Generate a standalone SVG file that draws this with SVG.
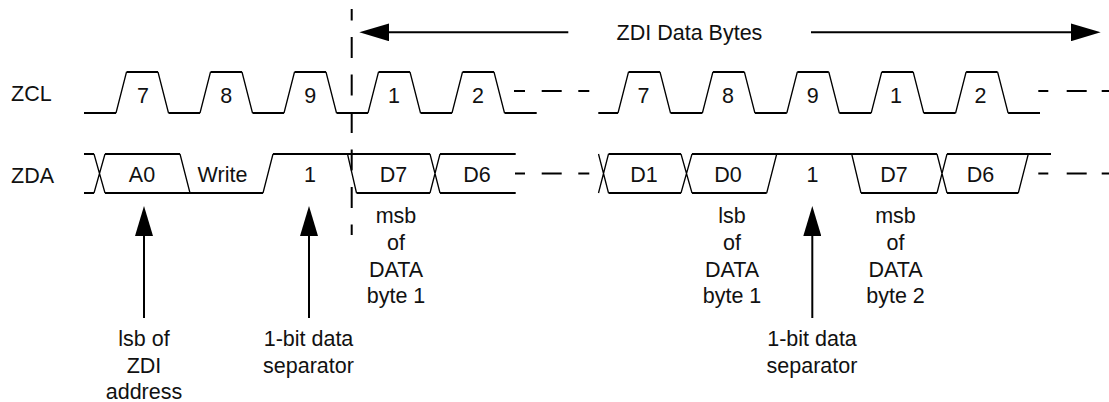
<svg xmlns="http://www.w3.org/2000/svg" width="1109" height="402" viewBox="0 0 1109 402">
<style>
  .h { fill: none; stroke: #000; stroke-width: 2; stroke-linecap: butt; }
  .d { fill: none; stroke: #000; stroke-width: 1.3; }
  .ar { fill: none; stroke: #000; stroke-width: 2; marker-end: url(#ah); }
  .vd { fill: none; stroke: #000; stroke-width: 2; stroke-dasharray: 21 16.5; stroke-dashoffset: 9.5; }
  text { font-family: "Liberation Sans", Arial, sans-serif; font-size: 21.5px; fill: #111; }
  .m { text-anchor: middle; }
</style>
<defs>
  <marker id="ah" viewBox="0 0 30 18" markerWidth="30" markerHeight="18" refX="1" refY="9" markerUnits="userSpaceOnUse" orient="auto">
    <path d="M0,0 L30,9 L0,18 Z" fill="#000"/>
  </marker>
</defs>
<rect width="1109" height="402" fill="#fff"/>

<g id="signal-labels">
  <text x="11" y="101">ZCL</text>
  <text x="11" y="182.5">ZDA</text>
</g>

<g id="zcl">
  <path class="h" d="M84,113H116 M168.5,113H200 M252.5,113H284 M336.5,113H368 M420.5,113H452 M504.5,113H536.7
    M126.5,72H158 M210.5,72H242 M294.5,72H326 M378.5,72H410 M462.5,72H494
    M598.3,113H618 M670.5,113H702.4 M754.9,113H786.8 M839.3,113H871.2 M923.7,113H955.6 M1008.1,113H1040
    M628.5,72H660 M712.9,72H744.4 M797.3,72H828.8 M881.7,72H913.2 M966.1,72H997.6
    M514,91H525 M541.7,91H561.7 M578.3,91H589.3 M1038.3,91H1048.3 M1066.7,91H1086.7 M1101.7,91H1109"/>
  <path class="d" d="M116,113L126.5,72 M158,72L168.5,113 M200,113L210.5,72 M242,72L252.5,113 M284,113L294.5,72 M326,72L336.5,113
    M368,113L378.5,72 M410,72L420.5,113 M452,113L462.5,72 M494,72L504.5,113
    M618,113L628.5,72 M660,72L670.5,113 M702.4,113L712.9,72 M744.4,72L754.9,113 M786.8,113L797.3,72 M828.8,72L839.3,113
    M871.2,113L881.7,72 M913.2,72L923.7,113 M955.6,113L966.1,72 M997.6,72L1008.1,113"/>
  <text class="m" x="143" y="103">7</text>
  <text class="m" x="226.3" y="103">8</text>
  <text class="m" x="310.3" y="103">9</text>
  <text class="m" x="394" y="103">1</text>
  <text class="m" x="478" y="103">2</text>
  <text class="m" x="643.5" y="103">7</text>
  <text class="m" x="728" y="103">8</text>
  <text class="m" x="812.8" y="103">9</text>
  <text class="m" x="896" y="103">1</text>
  <text class="m" x="980.5" y="103">2</text>
</g>

<g id="zda">
  <path class="h" d="M84,154H94 M105,154H180 M273,154H430 M440,154H515.7
    M84,193H94 M105,193H263 M356.5,193H430 M440,193H515.7
    M515,173.5H525 M541.7,173.5H561.7 M578.3,173.5H589.3
    M608.5,154H681 M692,154H937 M947,154H1051
    M608.5,193H681 M692,193H766.7 M861,193H937 M947,193H1018.3
    M1038.3,173.5H1048.3 M1066.7,173.5H1086.7 M1101.7,173.5H1109"/>
  <path class="d" d="M94,154L105,193 M94,193L105,154 M180,154L190,193 M263,193L273,154 M347.5,154L356.5,193 M430,154L440,193 M430,193L440,154
    M598.5,154L608.5,193 M598.5,193L608.5,154 M681,154L692,193 M681,193L692,154 M766.7,193L776.7,154 M851.7,154L861,193
    M937,154L947,193 M937,193L947,154 M1018.3,193L1028.3,154"/>
  <text class="m" x="142" y="182">A0</text>
  <text class="m" x="222.5" y="182">Write</text>
  <text class="m" x="310" y="182">1</text>
  <text class="m" x="393.5" y="182">D7</text>
  <text class="m" x="477" y="182">D6</text>
  <text class="m" x="644" y="182">D1</text>
  <text class="m" x="728" y="182">D0</text>
  <text class="m" x="812.5" y="182">1</text>
  <text class="m" x="894" y="182">D7</text>
  <text class="m" x="980.5" y="182">D6</text>
</g>

<g id="boundary">
  <path class="vd" d="M351.7,9V235"/>
</g>

<g id="connectors">
  <path class="ar" d="M568.3,32.3H388.3"/>
  <path class="ar" d="M811,32.3H1071.7"/>
  <path class="ar" d="M144,318V235"/>
  <path class="ar" d="M309,318V235"/>
  <path class="ar" d="M812.3,318V235"/>
</g>

<g id="data-bytes-label">
  <text class="m" x="689.5" y="40">ZDI Data Bytes</text>
</g>

<g id="note-lsb-addr">
  <text class="m" x="144" y="345.5">lsb of</text>
  <text class="m" x="144" y="372.5">ZDI</text>
  <text class="m" x="144" y="399">address</text>
</g>
<g id="note-sep1">
  <text class="m" x="308.5" y="345.5">1-bit data</text>
  <text class="m" x="308.5" y="372.5">separator</text>
</g>
<g id="note-msb1">
  <text class="m" x="396" y="223.3">msb</text>
  <text class="m" x="396" y="250">of</text>
  <text class="m" x="396" y="276.7">DATA</text>
  <text class="m" x="396" y="302.5">byte 1</text>
</g>
<g id="note-lsb1">
  <text class="m" x="732" y="223.3">lsb</text>
  <text class="m" x="732" y="250">of</text>
  <text class="m" x="732" y="276.7">DATA</text>
  <text class="m" x="732" y="302.5">byte 1</text>
</g>
<g id="note-sep2">
  <text class="m" x="812" y="345.5">1-bit data</text>
  <text class="m" x="812" y="372.5">separator</text>
</g>
<g id="note-msb2">
  <text class="m" x="895.5" y="223.3">msb</text>
  <text class="m" x="895.5" y="250">of</text>
  <text class="m" x="895.5" y="276.7">DATA</text>
  <text class="m" x="895.5" y="302.5">byte 2</text>
</g>
</svg>
